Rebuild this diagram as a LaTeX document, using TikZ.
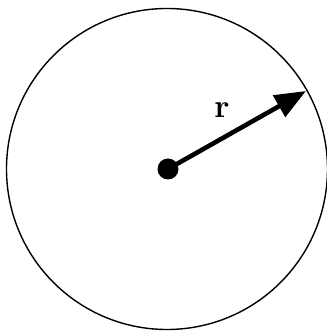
\documentclass[tikz,border=0pt]{standalone}
\usepackage{fontspec}
\usepackage{tikz}
\usetikzlibrary{arrows.meta,positioning}

\begin{document}
\begin{tikzpicture}[
  x=1pt, y=1pt,
  rim/.style={draw,line width=1.4pt},
  dot/.style={circle,fill,inner sep=0pt,minimum size=21pt},
  radius arrow/.style={-{Triangle[length=31pt,width=24pt]},line width=4.6pt}
]
  \useasboundingbox (0,0) rectangle (327,333);
  \draw[rim] (167,164) circle[radius=160.5];

  \node[dot] (centre) at (168,164) {};
  \coordinate (tip) at (306,242);
  \node[font=\fontsize{33}{36}\selectfont\bfseries] (rlabel) at (222,223) {r};

  \draw[radius arrow] (centre.center) -- (tip);
\end{tikzpicture}
\end{document}
